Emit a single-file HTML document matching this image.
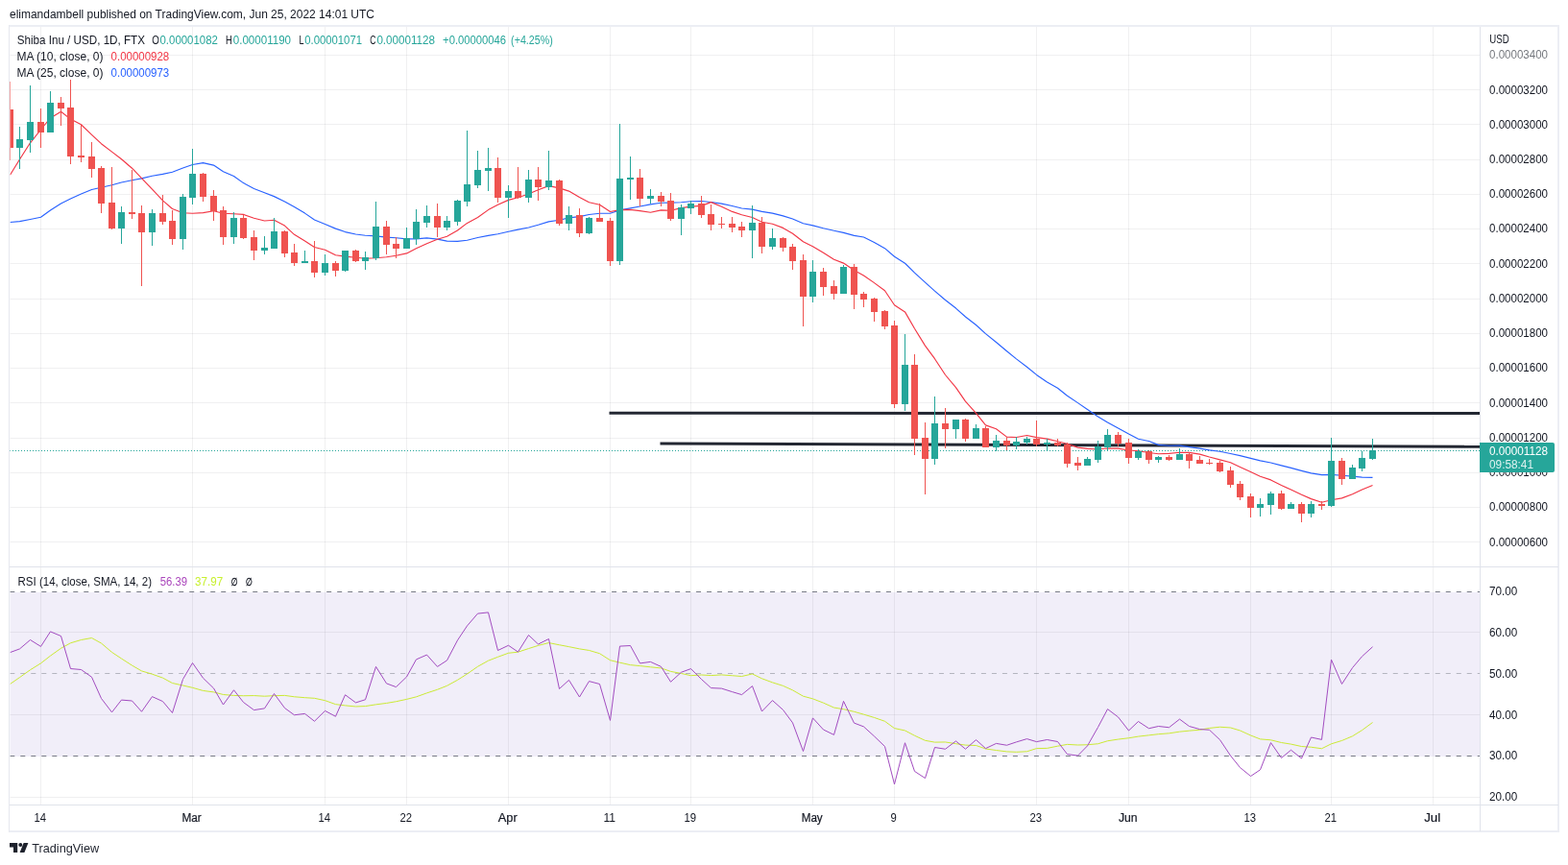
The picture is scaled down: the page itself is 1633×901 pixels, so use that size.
<!DOCTYPE html>
<html lang="en">
<head>
<meta charset="utf-8">
<title>SHIBUSD chart - TradingView</title>
<style>
html,body{margin:0;padding:0;background:#fff;}
body{width:1633px;height:901px;overflow:hidden;font-family:"Liberation Sans",Arial,sans-serif;}
svg text{white-space:pre;}
</style>
</head>
<body>
<svg width="1633" height="901" viewBox="0 0 1633 901" font-family='"Liberation Sans", Arial, sans-serif' style="display:block">
<rect width="1633" height="901" fill="#ffffff"/>
<defs>
<clipPath id="cm"><rect x="10" y="28" width="1531" height="562"/></clipPath>
<clipPath id="cr"><rect x="10" y="591" width="1531" height="247"/></clipPath>
</defs>
<text x="10" y="19" font-size="12" fill="#131722" textLength="380" lengthAdjust="spacingAndGlyphs">elimandambell published on TradingView.com, Jun 25, 2022 14:01 UTC</text>
<rect x="10" y="617" width="1531" height="171" fill="#f1eef9" shape-rendering="crispEdges"/>
<g shape-rendering="crispEdges" fill="#f0f1f4" fill-opacity="1">
<rect x="42" y="28" width="1" height="810" fill="rgba(42,46,57,0.07)"/>
<rect x="200" y="28" width="1" height="810" fill="rgba(42,46,57,0.07)"/>
<rect x="338" y="28" width="1" height="810" fill="rgba(42,46,57,0.07)"/>
<rect x="423" y="28" width="1" height="810" fill="rgba(42,46,57,0.07)"/>
<rect x="529" y="28" width="1" height="810" fill="rgba(42,46,57,0.07)"/>
<rect x="635" y="28" width="1" height="810" fill="rgba(42,46,57,0.07)"/>
<rect x="719" y="28" width="1" height="810" fill="rgba(42,46,57,0.07)"/>
<rect x="846" y="28" width="1" height="810" fill="rgba(42,46,57,0.07)"/>
<rect x="931" y="28" width="1" height="810" fill="rgba(42,46,57,0.07)"/>
<rect x="1079" y="28" width="1" height="810" fill="rgba(42,46,57,0.07)"/>
<rect x="1175" y="28" width="1" height="810" fill="rgba(42,46,57,0.07)"/>
<rect x="1302" y="28" width="1" height="810" fill="rgba(42,46,57,0.07)"/>
<rect x="1386" y="28" width="1" height="810" fill="rgba(42,46,57,0.07)"/>
<rect x="1492" y="28" width="1" height="810" fill="rgba(42,46,57,0.07)"/>
<rect x="10" y="57" width="1531" height="1" fill="rgba(42,46,57,0.07)"/>
<rect x="10" y="93" width="1531" height="1" fill="rgba(42,46,57,0.07)"/>
<rect x="10" y="129" width="1531" height="1" fill="rgba(42,46,57,0.07)"/>
<rect x="10" y="166" width="1531" height="1" fill="rgba(42,46,57,0.07)"/>
<rect x="10" y="202" width="1531" height="1" fill="rgba(42,46,57,0.07)"/>
<rect x="10" y="238" width="1531" height="1" fill="rgba(42,46,57,0.07)"/>
<rect x="10" y="274" width="1531" height="1" fill="rgba(42,46,57,0.07)"/>
<rect x="10" y="311" width="1531" height="1" fill="rgba(42,46,57,0.07)"/>
<rect x="10" y="347" width="1531" height="1" fill="rgba(42,46,57,0.07)"/>
<rect x="10" y="383" width="1531" height="1" fill="rgba(42,46,57,0.07)"/>
<rect x="10" y="419" width="1531" height="1" fill="rgba(42,46,57,0.07)"/>
<rect x="10" y="456" width="1531" height="1" fill="rgba(42,46,57,0.07)"/>
<rect x="10" y="492" width="1531" height="1" fill="rgba(42,46,57,0.07)"/>
<rect x="10" y="528" width="1531" height="1" fill="rgba(42,46,57,0.07)"/>
<rect x="10" y="564" width="1531" height="1" fill="rgba(42,46,57,0.07)"/>
<rect x="10" y="658" width="1531" height="1" fill="rgba(42,46,57,0.07)"/>
<rect x="10" y="744" width="1531" height="1" fill="rgba(42,46,57,0.07)"/>
<rect x="10" y="830" width="1531" height="1" fill="rgba(42,46,57,0.07)"/>
</g>
<g clip-path="url(#cm)">
<line x1="634.5" y1="430.3" x2="1541" y2="430.6" stroke="#232732" stroke-width="3"/>
<line x1="687.5" y1="461.9" x2="1541" y2="465.2" stroke="#232732" stroke-width="3"/>
<line x1="10" y1="469.5" x2="1541" y2="469.5" stroke="#26a69a" stroke-width="1" stroke-dasharray="1 2" shape-rendering="crispEdges"/>
<path d="M10.5,231.50 L20.5,230.60 L31.5,228.50 L42.5,226.25 L52.5,219.00 L63.5,211.90 L73.5,207.00 L84.5,202.00 L95.5,197.50 L105.5,195.25 L116.5,192.75 L126.5,190.00 L137.5,187.75 L147.5,185.90 L158.5,183.30 L169.5,181.40 L179.5,179.20 L190.5,175.00 L200.5,171.50 L211.5,169.60 L222.5,172.10 L232.5,178.75 L243.5,183.50 L253.5,190.60 L264.5,196.58 L275.5,200.78 L285.5,204.62 L296.5,210.06 L306.5,215.50 L317.5,222.10 L327.5,228.94 L338.5,233.42 L349.5,238.14 L359.5,241.58 L370.5,243.98 L380.5,245.22 L391.5,245.82 L402.5,247.10 L412.5,247.78 L423.5,248.82 L433.5,248.86 L444.5,247.94 L455.5,249.18 L465.5,251.14 L476.5,251.34 L486.5,250.26 L497.5,247.50 L508.5,245.42 L518.5,243.74 L529.5,241.30 L539.5,239.18 L550.5,237.02 L560.5,234.26 L571.5,230.86 L582.5,229.26 L592.5,226.90 L603.5,225.62 L613.5,223.46 L624.5,222.22 L635.5,222.22 L645.5,218.94 L656.5,216.90 L666.5,214.98 L677.5,212.82 L688.5,211.26 L698.5,211.10 L709.5,210.74 L719.5,209.78 L730.5,209.50 L740.5,210.46 L751.5,212.10 L762.5,214.46 L772.5,217.02 L783.5,218.10 L793.5,220.38 L804.5,222.10 L815.5,224.90 L825.5,227.98 L836.5,232.78 L846.5,234.82 L857.5,237.78 L868.5,240.30 L878.5,242.34 L889.5,245.38 L899.5,246.98 L910.5,252.50 L921.5,258.66 L931.5,267.22 L942.5,274.26 L952.5,284.14 L963.5,294.14 L973.5,303.14 L984.5,312.50 L995.5,321.06 L1005.5,329.98 L1016.5,338.50 L1026.5,347.66 L1037.5,356.46 L1048.5,365.70 L1058.5,373.86 L1069.5,382.22 L1079.5,390.42 L1090.5,398.02 L1101.5,404.22 L1111.5,412.18 L1122.5,419.62 L1132.5,426.54 L1143.5,434.02 L1153.5,439.90 L1164.5,445.90 L1175.5,451.98 L1185.5,457.22 L1196.5,459.54 L1206.5,463.38 L1217.5,464.26 L1228.5,464.10 L1238.5,465.62 L1249.5,467.06 L1259.5,468.86 L1270.5,470.22 L1281.5,472.54 L1291.5,474.62 L1302.5,477.38 L1312.5,479.86 L1323.5,482.02 L1334.5,484.90 L1344.5,487.42 L1355.5,490.34 L1365.5,492.82 L1376.5,494.58 L1386.5,494.42 L1397.5,495.22 L1408.5,496.10 L1418.5,497.06 L1429.5,497.38" fill="none" stroke="#2962ff" stroke-width="1.15" stroke-linejoin="round"/>
<path d="M10.5,182.30 L20.5,166.00 L31.5,148.80 L42.5,135.00 L52.5,122.90 L63.5,116.25 L73.5,124.10 L84.5,129.75 L95.5,140.40 L105.5,149.70 L116.5,158.10 L126.5,165.70 L137.5,175.20 L147.5,185.60 L158.5,197.10 L169.5,208.90 L179.5,217.50 L190.5,221.70 L200.5,222.30 L211.5,221.60 L222.5,219.80 L232.5,222.30 L243.5,222.80 L253.5,223.40 L264.5,227.20 L275.5,230.00 L285.5,229.30 L296.5,235.10 L306.5,244.30 L317.5,251.10 L327.5,257.50 L338.5,260.30 L349.5,265.70 L359.5,267.10 L370.5,268.20 L380.5,269.20 L391.5,268.70 L402.5,267.80 L412.5,266.30 L423.5,263.90 L433.5,258.70 L444.5,253.80 L455.5,249.30 L465.5,246.20 L476.5,240.00 L486.5,232.40 L497.5,226.50 L508.5,218.60 L518.5,213.30 L529.5,208.40 L539.5,205.80 L550.5,202.00 L560.5,197.80 L571.5,193.60 L582.5,195.90 L592.5,199.10 L603.5,205.60 L613.5,210.80 L624.5,213.30 L635.5,220.50 L645.5,218.60 L656.5,218.40 L666.5,219.60 L677.5,221.20 L688.5,218.90 L698.5,219.20 L709.5,216.60 L719.5,215.10 L730.5,214.40 L740.5,210.60 L751.5,215.30 L762.5,220.40 L772.5,223.70 L783.5,226.50 L793.5,231.20 L804.5,233.30 L815.5,237.40 L825.5,243.30 L836.5,251.80 L846.5,256.80 L857.5,263.30 L868.5,270.20 L878.5,274.10 L889.5,281.50 L899.5,287.00 L910.5,294.60 L921.5,302.80 L931.5,317.70 L942.5,324.90 L952.5,342.20 L963.5,360.10 L973.5,373.70 L984.5,390.50 L995.5,403.60 L1005.5,418.10 L1016.5,430.30 L1026.5,442.90 L1037.5,446.80 L1048.5,455.10 L1058.5,455.50 L1069.5,453.50 L1079.5,455.60 L1090.5,457.10 L1101.5,459.70 L1111.5,462.30 L1122.5,466.10 L1132.5,467.40 L1143.5,468.00 L1153.5,467.00 L1164.5,467.10 L1175.5,469.00 L1185.5,469.80 L1196.5,471.50 L1206.5,472.80 L1217.5,472.40 L1228.5,471.30 L1238.5,471.40 L1249.5,473.10 L1259.5,476.00 L1270.5,478.90 L1281.5,481.70 L1291.5,486.40 L1302.5,491.40 L1312.5,496.30 L1323.5,499.90 L1334.5,505.50 L1344.5,510.10 L1355.5,515.30 L1365.5,519.60 L1376.5,523.20 L1386.5,520.80 L1397.5,518.90 L1408.5,514.80 L1418.5,510.00 L1429.5,505.50" fill="none" stroke="#f23645" stroke-width="1.15" stroke-linejoin="round"/>
<path d="M10 85h1V167h-1zM7 114h7V154h-7zM42 113h1V154h-1zM39 127h7V138h-7zM63 101h1V131h-1zM60 107h7V113h-7zM73 83h1V171h-1zM70 112h7V163h-7zM84 130h1V169h-1zM81 162h7V164h-7zM95 148h1V185h-1zM92 163h7V176h-7zM105 173h1V222h-1zM102 175h7V212h-7zM116 174h1V239h-1zM113 211h7V238h-7zM137 177h1V228h-1zM134 221h7V223h-7zM147 214h1V298h-1zM144 222h7V242h-7zM169 203h1V234h-1zM166 222h7V231h-7zM179 219h1V255h-1zM176 230h7V249h-7zM211 180h1V210h-1zM208 181h7V205h-7zM222 198h1V230h-1zM219 204h7V220h-7zM232 215h1V255h-1zM229 219h7V247h-7zM253 224h1V249h-1zM250 227h7V248h-7zM264 240h1V271h-1zM261 247h7V261h-7zM296 240h1V268h-1zM293 241h7V264h-7zM306 254h1V277h-1zM303 263h7V274h-7zM327 251h1V289h-1zM324 272h7V284h-7zM349 272h1V288h-1zM346 274h7V282h-7zM370 260h1V273h-1zM367 261h7V272h-7zM402 230h1V265h-1zM399 236h7V255h-7zM412 247h1V269h-1zM409 254h7V259h-7zM455 212h1V247h-1zM452 225h7V237h-7zM518 164h1V211h-1zM515 175h7V206h-7zM539 174h1V207h-1zM536 199h7V206h-7zM560 174h1V209h-1zM557 187h7V195h-7zM582 187h1V235h-1zM579 188h7V233h-7zM603 217h1V247h-1zM600 224h7V243h-7zM624 212h1V231h-1zM621 227h7V231h-7zM635 227h1V277h-1zM632 230h7V272h-7zM666 176h1V215h-1zM663 185h7V207h-7zM688 200h1V215h-1zM685 204h7V210h-7zM698 201h1V230h-1zM695 209h7V228h-7zM730 204h1V227h-1zM727 212h7V224h-7zM740 213h1V240h-1zM737 223h7V234h-7zM751 226h1V238h-1zM748 233h7V234h-7zM762 226h1V242h-1zM759 233h7V237h-7zM772 231h1V247h-1zM769 236h7V240h-7zM793 226h1V264h-1zM790 232h7V257h-7zM815 247h1V262h-1zM812 248h7V258h-7zM825 254h1V281h-1zM822 257h7V272h-7zM836 265h1V340h-1zM833 271h7V309h-7zM857 279h1V308h-1zM854 283h7V299h-7zM868 292h1V312h-1zM865 298h7V306h-7zM889 275h1V322h-1zM886 278h7V307h-7zM899 304h1V320h-1zM896 306h7V312h-7zM910 310h1V335h-1zM907 311h7V325h-7zM921 323h1V343h-1zM918 324h7V340h-7zM931 334h1V425h-1zM928 339h7V421h-7zM952 369h1V474h-1zM949 380h7V457h-7zM963 440h1V515h-1zM960 456h7V478h-7zM984 425h1V467h-1zM981 441h7V447h-7zM1005 436h1V460h-1zM1002 437h7V457h-7zM1026 444h1V466h-1zM1023 446h7V466h-7zM1048 455h1V469h-1zM1045 459h7V464h-7zM1079 438h1V465h-1zM1076 457h7V463h-7zM1101 457h1V465h-1zM1098 461h7V464h-7zM1111 461h1V487h-1zM1108 463h7V483h-7zM1122 476h1V490h-1zM1119 482h7V485h-7zM1164 450h1V465h-1zM1161 453h7V462h-7zM1175 457h1V483h-1zM1172 461h7V477h-7zM1196 469h1V483h-1zM1193 470h7V479h-7zM1217 474h1V480h-1zM1214 476h7V479h-7zM1238 471h1V488h-1zM1235 473h7V480h-7zM1249 475h1V483h-1zM1246 479h7V483h-7zM1259 478h1V484h-1zM1256 482h7V483h-7zM1270 480h1V492h-1zM1267 482h7V491h-7zM1281 486h1V508h-1zM1278 490h7V505h-7zM1291 501h1V521h-1zM1288 504h7V518h-7zM1302 514h1V539h-1zM1299 517h7V529h-7zM1334 511h1V531h-1zM1331 514h7V530h-7zM1355 523h1V544h-1zM1352 525h7V535h-7zM1376 522h1V531h-1zM1373 525h7V527h-7zM1397 477h1V505h-1zM1394 480h7V499h-7z" fill="#ef5350" shape-rendering="crispEdges"/>
<path d="M20 132h1V176h-1zM17 145h7V154h-7zM31 89h1V159h-1zM28 127h7V146h-7zM52 95h1V138h-1zM49 107h7V138h-7zM126 215h1V254h-1zM123 221h7V238h-7zM158 218h1V256h-1zM155 222h7V242h-7zM190 202h1V260h-1zM187 205h7V249h-7zM200 155h1V213h-1zM197 181h7V206h-7zM243 221h1V254h-1zM240 227h7V247h-7zM275 246h1V265h-1zM272 258h7V261h-7zM285 227h1V259h-1zM282 241h7V259h-7zM317 261h1V274h-1zM314 272h7V274h-7zM338 265h1V287h-1zM335 274h7V284h-7zM359 261h1V283h-1zM356 261h7V282h-7zM380 262h1V281h-1zM377 268h7V272h-7zM391 210h1V271h-1zM388 236h7V269h-7zM423 237h1V259h-1zM420 248h7V259h-7zM433 218h1V255h-1zM430 231h7V249h-7zM444 214h1V237h-1zM441 225h7V232h-7zM465 225h1V240h-1zM462 230h7V237h-7zM476 208h1V235h-1zM473 209h7V231h-7zM486 136h1V215h-1zM483 192h7V210h-7zM497 157h1V196h-1zM494 177h7V193h-7zM508 154h1V199h-1zM505 175h7V178h-7zM529 193h1V227h-1zM526 199h7V206h-7zM550 177h1V211h-1zM547 187h7V206h-7zM571 157h1V198h-1zM568 188h7V195h-7zM592 215h1V240h-1zM589 224h7V233h-7zM613 226h1V244h-1zM610 227h7V243h-7zM645 129h1V276h-1zM642 186h7V272h-7zM656 163h1V208h-1zM653 185h7V187h-7zM677 197h1V212h-1zM674 204h7V207h-7zM709 213h1V245h-1zM706 216h7V228h-7zM719 209h1V223h-1zM716 212h7V217h-7zM783 214h1V269h-1zM780 232h7V240h-7zM804 238h1V260h-1zM801 248h7V257h-7zM846 271h1V315h-1zM843 283h7V309h-7zM878 276h1V306h-1zM875 278h7V306h-7zM942 348h1V428h-1zM939 380h7V421h-7zM973 413h1V484h-1zM970 441h7V478h-7zM995 437h1V457h-1zM992 437h7V447h-7zM1016 442h1V457h-1zM1013 446h7V457h-7zM1037 453h1V470h-1zM1034 459h7V466h-7zM1058 455h1V468h-1zM1055 460h7V464h-7zM1069 455h1V463h-1zM1066 457h7V461h-7zM1090 457h1V470h-1zM1087 461h7V463h-7zM1132 476h1V485h-1zM1129 478h7V485h-7zM1143 459h1V482h-1zM1140 465h7V479h-7zM1153 447h1V470h-1zM1150 453h7V466h-7zM1185 468h1V479h-1zM1182 470h7V477h-7zM1206 475h1V482h-1zM1203 476h7V479h-7zM1228 467h1V479h-1zM1225 473h7V479h-7zM1312 519h1V538h-1zM1309 525h7V529h-7zM1323 512h1V536h-1zM1320 514h7V526h-7zM1344 523h1V530h-1zM1341 525h7V530h-7zM1365 522h1V539h-1zM1362 525h7V535h-7zM1386 456h1V528h-1zM1383 480h7V527h-7zM1408 484h1V499h-1zM1405 487h7V499h-7zM1418 470h1V491h-1zM1415 477h7V488h-7zM1429 457h1V479h-1zM1426 469h7V478h-7z" fill="#26a69a" shape-rendering="crispEdges"/>
</g>
<text x="17.7" y="46" font-size="12" fill="#131722" textLength="133.3" lengthAdjust="spacingAndGlyphs">Shiba Inu / USD, 1D, FTX</text>
<text x="158.3" y="46" font-size="12" fill="#131722" textLength="7.6" lengthAdjust="spacingAndGlyphs">O</text>
<text x="166.5" y="46" font-size="12" fill="#26a69a" textLength="60.4" lengthAdjust="spacingAndGlyphs">0.00001082</text>
<text x="234.9" y="46" font-size="12" fill="#131722" textLength="6.8" lengthAdjust="spacingAndGlyphs">H</text>
<text x="242.8" y="46" font-size="12" fill="#26a69a" textLength="60.2" lengthAdjust="spacingAndGlyphs">0.00001190</text>
<text x="311.4" y="46" font-size="12" fill="#131722" textLength="5.0" lengthAdjust="spacingAndGlyphs">L</text>
<text x="317.2" y="46" font-size="12" fill="#26a69a" textLength="59.8" lengthAdjust="spacingAndGlyphs">0.00001071</text>
<text x="385.2" y="46" font-size="12" fill="#131722" textLength="6.2" lengthAdjust="spacingAndGlyphs">C</text>
<text x="392.4" y="46" font-size="12" fill="#26a69a" textLength="60.6" lengthAdjust="spacingAndGlyphs">0.00001128</text>
<text x="461.1" y="46" font-size="12" fill="#26a69a" textLength="66" lengthAdjust="spacingAndGlyphs">+0.00000046</text>
<text x="532.1" y="46" font-size="12" fill="#26a69a" textLength="43.7" lengthAdjust="spacingAndGlyphs">(+4.25%)</text>
<text x="17.4" y="63" font-size="12" fill="#131722" textLength="90.1" lengthAdjust="spacingAndGlyphs">MA (10, close, 0)</text>
<text x="115.6" y="63" font-size="12" fill="#f23645" textLength="60.6" lengthAdjust="spacingAndGlyphs">0.00000928</text>
<text x="17.4" y="80" font-size="12" fill="#131722" textLength="90.1" lengthAdjust="spacingAndGlyphs">MA (25, close, 0)</text>
<text x="115.6" y="80" font-size="12" fill="#2962ff" textLength="60.6" lengthAdjust="spacingAndGlyphs">0.00000973</text>
<g clip-path="url(#cr)">
<line x1="10.3" y1="616.5" x2="1541" y2="616.5" stroke="#787b86" stroke-width="1" stroke-dasharray="5 5.996"/>
<line x1="10.3" y1="787.5" x2="1541" y2="787.5" stroke="#787b86" stroke-width="1" stroke-dasharray="5 5.996"/>
<line x1="10.3" y1="701.5" x2="1541" y2="701.5" stroke="#787b86" stroke-opacity="0.5" stroke-width="1" stroke-dasharray="5 5.996"/>
<path d="M10.5,712.50 L20.5,705.60 L31.5,697.75 L42.5,690.90 L52.5,683.10 L63.5,675.25 L73.5,669.75 L84.5,666.50 L95.5,664.50 L105.5,670.00 L116.5,679.40 L126.5,686.00 L137.5,693.10 L147.5,698.91 L158.5,702.20 L169.5,706.11 L179.5,711.54 L190.5,713.97 L200.5,716.30 L211.5,719.43 L222.5,720.88 L232.5,723.49 L243.5,724.45 L253.5,724.74 L264.5,724.57 L275.5,725.20 L285.5,724.67 L296.5,724.40 L306.5,725.77 L317.5,726.68 L327.5,727.31 L338.5,729.66 L349.5,733.64 L359.5,734.89 L370.5,735.96 L380.5,735.59 L391.5,733.85 L402.5,732.45 L412.5,730.73 L423.5,728.38 L433.5,725.84 L444.5,721.88 L455.5,718.29 L465.5,714.32 L476.5,708.30 L486.5,701.98 L497.5,694.32 L508.5,688.19 L518.5,684.30 L529.5,680.27 L539.5,679.18 L550.5,675.57 L560.5,672.39 L571.5,669.57 L582.5,671.75 L592.5,673.63 L603.5,675.89 L613.5,677.44 L624.5,680.70 L635.5,687.73 L645.5,690.16 L656.5,692.63 L666.5,693.59 L677.5,694.81 L688.5,695.91 L698.5,699.39 L709.5,701.48 L719.5,703.70 L730.5,702.99 L740.5,703.57 L751.5,702.94 L762.5,703.72 L772.5,704.51 L783.5,701.96 L793.5,706.81 L804.5,710.89 L815.5,714.35 L825.5,718.89 L836.5,725.18 L846.5,727.87 L857.5,732.14 L868.5,737.05 L878.5,738.69 L889.5,741.29 L899.5,744.14 L910.5,747.44 L921.5,751.29 L931.5,758.60 L942.5,760.94 L952.5,766.21 L963.5,771.30 L973.5,773.12 L984.5,772.96 L995.5,774.68 L1005.5,776.12 L1016.5,776.50 L1026.5,780.01 L1037.5,781.53 L1048.5,782.91 L1058.5,783.34 L1069.5,782.78 L1079.5,779.61 L1090.5,779.38 L1101.5,777.18 L1111.5,775.39 L1122.5,776.00 L1132.5,775.76 L1143.5,774.74 L1153.5,771.76 L1164.5,770.07 L1175.5,768.74 L1185.5,767.10 L1196.5,765.85 L1206.5,764.68 L1217.5,763.84 L1228.5,762.16 L1238.5,761.16 L1249.5,760.24 L1259.5,758.43 L1270.5,757.25 L1281.5,757.98 L1291.5,760.98 L1302.5,765.97 L1312.5,769.89 L1323.5,770.79 L1334.5,773.50 L1344.5,775.11 L1355.5,777.50 L1365.5,778.24 L1376.5,779.76 L1386.5,774.80 L1397.5,771.44 L1408.5,766.82 L1418.5,760.61 L1429.5,752.52" fill="none" stroke="#cbea35" stroke-width="1" stroke-linejoin="round"/>
<path d="M10.5,679.60 L20.5,675.90 L31.5,666.50 L42.5,673.40 L52.5,657.90 L63.5,662.50 L73.5,696.50 L84.5,697.50 L95.5,705.25 L105.5,727.50 L116.5,741.90 L126.5,729.10 L137.5,730.00 L147.5,741.25 L158.5,725.60 L169.5,730.60 L179.5,742.50 L190.5,707.50 L200.5,690.50 L211.5,706.25 L222.5,716.90 L232.5,734.00 L243.5,718.75 L253.5,731.50 L264.5,739.60 L275.5,737.90 L285.5,722.50 L296.5,737.50 L306.5,744.75 L317.5,743.40 L327.5,751.25 L338.5,740.40 L349.5,746.25 L359.5,723.75 L370.5,731.90 L380.5,728.75 L391.5,694.40 L402.5,711.90 L412.5,715.60 L423.5,705.00 L433.5,686.90 L444.5,682.10 L455.5,694.40 L465.5,687.90 L476.5,666.90 L486.5,651.90 L497.5,639.10 L508.5,637.90 L518.5,677.50 L529.5,672.25 L539.5,679.10 L550.5,661.50 L560.5,671.00 L571.5,665.50 L582.5,717.50 L592.5,708.40 L603.5,726.00 L613.5,709.60 L624.5,712.50 L635.5,750.40 L645.5,673.10 L656.5,672.50 L666.5,690.90 L677.5,689.40 L688.5,694.40 L698.5,710.25 L709.5,700.25 L719.5,696.60 L730.5,707.50 L740.5,716.60 L751.5,717.10 L762.5,720.60 L772.5,723.60 L783.5,714.60 L793.5,741.00 L804.5,729.60 L815.5,739.40 L825.5,752.90 L836.5,782.50 L846.5,747.90 L857.5,760.00 L868.5,765.40 L878.5,730.40 L889.5,753.10 L899.5,756.90 L910.5,766.90 L921.5,777.50 L931.5,816.90 L942.5,773.75 L952.5,803.40 L963.5,810.60 L973.5,778.50 L984.5,780.25 L995.5,771.90 L1005.5,780.25 L1016.5,770.60 L1026.5,779.60 L1037.5,774.40 L1048.5,776.25 L1058.5,772.90 L1069.5,769.60 L1079.5,772.60 L1090.5,770.50 L1101.5,772.50 L1111.5,785.60 L1122.5,787.10 L1132.5,776.90 L1143.5,757.50 L1153.5,738.60 L1164.5,746.90 L1175.5,761.00 L1185.5,751.50 L1196.5,758.75 L1206.5,756.50 L1217.5,757.75 L1228.5,749.10 L1238.5,756.50 L1249.5,759.60 L1259.5,760.25 L1270.5,770.60 L1281.5,787.10 L1291.5,799.50 L1302.5,808.50 L1312.5,801.80 L1323.5,773.60 L1334.5,789.50 L1344.5,781.25 L1355.5,790.00 L1365.5,768.00 L1376.5,770.40 L1386.5,687.10 L1397.5,712.50 L1408.5,695.60 L1418.5,683.75 L1429.5,673.75" fill="none" stroke="#a24cc0" stroke-width="1" stroke-linejoin="round"/>
</g>
<text x="18.5" y="610" font-size="12" fill="#131722" textLength="139.5" lengthAdjust="spacingAndGlyphs">RSI (14, close, SMA, 14, 2)</text>
<text x="166.7" y="610" font-size="12" fill="#ab47bc" textLength="28.3" lengthAdjust="spacingAndGlyphs">56.39</text>
<text x="203.1" y="610" font-size="12" fill="#c8f02f" textLength="29" lengthAdjust="spacingAndGlyphs">37.97</text>
<text x="240.6" y="610" font-size="11.5" fill="#131722" textLength="7.2" lengthAdjust="spacingAndGlyphs" font-family="DejaVu Sans, sans-serif" stroke="#131722" stroke-width="0.35">&#8709;</text>
<text x="255.8" y="610" font-size="11.5" fill="#131722" textLength="7.2" lengthAdjust="spacingAndGlyphs" font-family="DejaVu Sans, sans-serif" stroke="#131722" stroke-width="0.35">&#8709;</text>
<g shape-rendering="crispEdges">
<rect x="9" y="26" width="1615" height="2" fill="#eceef4"/>
<rect x="9" y="865" width="1615" height="2" fill="#eceef4"/>
<rect x="9" y="26" width="1" height="841" fill="#e6e8ef"/>
<rect x="10" y="28" width="1" height="837" fill="#ffffff" fill-opacity="0.45"/>
<rect x="1622" y="26" width="2" height="841" fill="#eceef4"/>
<rect x="10" y="590" width="1613" height="1" fill="#e0e3eb"/>
<rect x="10" y="838" width="1613" height="1" fill="#e0e3eb"/>
<rect x="1541" y="28" width="1" height="838" fill="#e0e3eb"/>
</g>
<text x="1551.3" y="44.7" font-size="12" fill="#131722" textLength="20.4" lengthAdjust="spacingAndGlyphs">USD</text>
<text x="1551" y="61.3" font-size="12" fill="#131722" textLength="61" lengthAdjust="spacingAndGlyphs" fill-opacity="0.6">0.00003400</text>
<text x="1551" y="97.5" font-size="12" fill="#131722" textLength="61" lengthAdjust="spacingAndGlyphs">0.00003200</text>
<text x="1551" y="133.8" font-size="12" fill="#131722" textLength="61" lengthAdjust="spacingAndGlyphs">0.00003000</text>
<text x="1551" y="170.0" font-size="12" fill="#131722" textLength="61" lengthAdjust="spacingAndGlyphs">0.00002800</text>
<text x="1551" y="206.2" font-size="12" fill="#131722" textLength="61" lengthAdjust="spacingAndGlyphs">0.00002600</text>
<text x="1551" y="242.4" font-size="12" fill="#131722" textLength="61" lengthAdjust="spacingAndGlyphs">0.00002400</text>
<text x="1551" y="278.7" font-size="12" fill="#131722" textLength="61" lengthAdjust="spacingAndGlyphs">0.00002200</text>
<text x="1551" y="314.9" font-size="12" fill="#131722" textLength="61" lengthAdjust="spacingAndGlyphs">0.00002000</text>
<text x="1551" y="351.1" font-size="12" fill="#131722" textLength="61" lengthAdjust="spacingAndGlyphs">0.00001800</text>
<text x="1551" y="387.4" font-size="12" fill="#131722" textLength="61" lengthAdjust="spacingAndGlyphs">0.00001600</text>
<text x="1551" y="423.6" font-size="12" fill="#131722" textLength="61" lengthAdjust="spacingAndGlyphs">0.00001400</text>
<text x="1551" y="459.8" font-size="12" fill="#131722" textLength="61" lengthAdjust="spacingAndGlyphs">0.00001200</text>
<text x="1551" y="496.1" font-size="12" fill="#131722" textLength="61" lengthAdjust="spacingAndGlyphs">0.00001000</text>
<text x="1551" y="532.3" font-size="12" fill="#131722" textLength="61" lengthAdjust="spacingAndGlyphs">0.00000800</text>
<text x="1551" y="568.5" font-size="12" fill="#131722" textLength="61" lengthAdjust="spacingAndGlyphs">0.00000600</text>
<text x="1551" y="620.0" font-size="12" fill="#131722" textLength="29.2" lengthAdjust="spacingAndGlyphs">70.00</text>
<text x="1551" y="662.9" font-size="12" fill="#131722" textLength="29.2" lengthAdjust="spacingAndGlyphs">60.00</text>
<text x="1551" y="705.8" font-size="12" fill="#131722" textLength="29.2" lengthAdjust="spacingAndGlyphs">50.00</text>
<text x="1551" y="748.6" font-size="12" fill="#131722" textLength="29.2" lengthAdjust="spacingAndGlyphs">40.00</text>
<text x="1551" y="791.2" font-size="12" fill="#131722" textLength="29.2" lengthAdjust="spacingAndGlyphs">30.00</text>
<text x="1551" y="833.9" font-size="12" fill="#131722" textLength="29.2" lengthAdjust="spacingAndGlyphs">20.00</text>
<path d="M1541 461h76a2 2 0 0 1 2 2v27a2 2 0 0 1 -2 2h-76z" fill="#26a69a"/>
<text x="1551" y="474" font-size="12" fill="#ffffff" textLength="61" lengthAdjust="spacingAndGlyphs">0.00001128</text>
<text x="1551" y="488" font-size="12" fill="#ffffff" textLength="46" lengthAdjust="spacingAndGlyphs" fill-opacity="0.85">09:58:41</text>
<text x="35.4" y="856" font-size="12" fill="#131722" textLength="12.58" lengthAdjust="spacingAndGlyphs">14</text>
<text x="189.5" y="856" font-size="12" fill="#131722" textLength="20.3" lengthAdjust="spacingAndGlyphs" stroke="#131722" stroke-width="0.2">Mar</text>
<text x="331.4" y="856" font-size="12" fill="#131722" textLength="12.58" lengthAdjust="spacingAndGlyphs">14</text>
<text x="416.4" y="856" font-size="12" fill="#131722" textLength="12.58" lengthAdjust="spacingAndGlyphs">22</text>
<text x="518.7" y="856" font-size="12" fill="#131722" textLength="20" lengthAdjust="spacingAndGlyphs" stroke="#131722" stroke-width="0.2">Apr</text>
<text x="628.4" y="856" font-size="12" fill="#131722" textLength="12.58" lengthAdjust="spacingAndGlyphs">11</text>
<text x="712.4" y="856" font-size="12" fill="#131722" textLength="12.58" lengthAdjust="spacingAndGlyphs">19</text>
<text x="834.7" y="856" font-size="12" fill="#131722" textLength="22" lengthAdjust="spacingAndGlyphs" stroke="#131722" stroke-width="0.2">May</text>
<text x="927.6" y="856" font-size="12" fill="#131722" textLength="6.29" lengthAdjust="spacingAndGlyphs">9</text>
<text x="1072.4" y="856" font-size="12" fill="#131722" textLength="12.58" lengthAdjust="spacingAndGlyphs">23</text>
<text x="1164.9" y="856" font-size="12" fill="#131722" textLength="19.6" lengthAdjust="spacingAndGlyphs" stroke="#131722" stroke-width="0.2">Jun</text>
<text x="1295.4" y="856" font-size="12" fill="#131722" textLength="12.58" lengthAdjust="spacingAndGlyphs">13</text>
<text x="1379.4" y="856" font-size="12" fill="#131722" textLength="12.58" lengthAdjust="spacingAndGlyphs">21</text>
<text x="1483.2" y="856" font-size="12" fill="#131722" textLength="17" lengthAdjust="spacingAndGlyphs" stroke="#131722" stroke-width="0.2">Jul</text>
<g fill="#1e222d">
<path d="M10 878h8.2v10h-4.2v-5.6h-4z"/>
<circle cx="21.3" cy="880" r="2"/>
<path d="M24.6 878h4.8l-4 10h-4.8z"/>
</g>
<text x="33.2" y="888" font-size="13" fill="#1e222d" textLength="70" lengthAdjust="spacingAndGlyphs">TradingView</text>
</svg>
</body>
</html>
